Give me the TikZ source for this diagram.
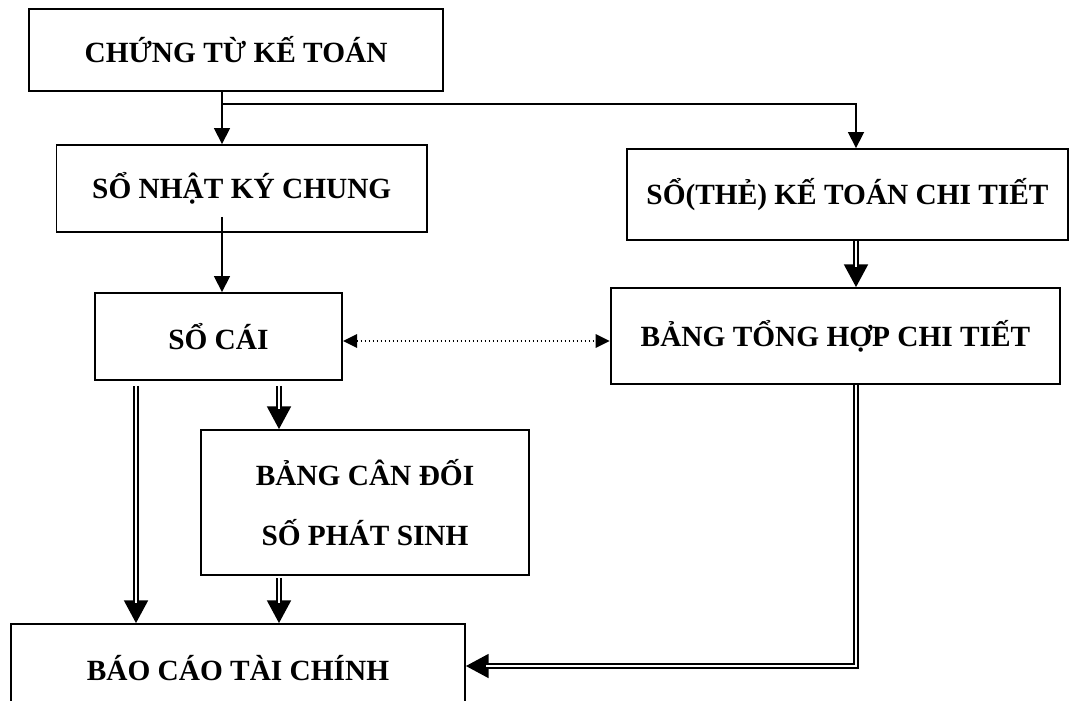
\documentclass[tikz,border=0pt]{standalone}
\usepackage{fontspec}
\setmainfont{Liberation Serif}
\usetikzlibrary{arrows.meta,calc}
\tikzset{
  box/.style={draw=black, line width=1.4pt, inner sep=0pt, align=center,
    font=\fontsize{22}{45}\selectfont\bfseries},
  arr/.style={draw=black, line width=1.2pt, -{Triangle[length=12pt,width=12pt]}},
  dotarr/.style={draw=black, line width=1.4pt, dash pattern=on 1.3pt off 1.7pt,
    {Triangle[length=10.5pt,width=10pt]}-{Triangle[length=10.5pt,width=10pt]}},
  dblarr/.style={draw=black, line width=1.2pt, -{Triangle[length=17pt,width=18pt]},
    postaction={draw=black, arrows=-, double=white, double distance=2.2pt,
      line width=1.2pt, shorten >=15pt}}
}
\begin{document}
\begin{tikzpicture}[x=0.75pt,y=-0.75pt]
\useasboundingbox (0,0) rectangle (1070,700);
\node[box, minimum width=310.5pt, minimum height=61.5pt] (b1) at (236,50) {CHỨNG TỪ KẾ TOÁN};
\node[box, minimum width=277.9pt, minimum height=65.25pt] (b2) at (241.75,188.5) {SỔ NHẬT KÝ CHUNG};
\node[box, minimum width=330.75pt, minimum height=68.25pt] (b3) at (847.5,194.5) {SỔ(THẺ) KẾ TOÁN CHI TIẾT};
\node[box, minimum width=185.5pt, minimum height=65.25pt] (b4) at (218.4,336.5) {SỔ CÁI};
\node[box, minimum width=337.3pt, minimum height=72pt] (b5) at (835.5,336) {BẢNG TỔNG HỢP CHI TIẾT};
\node[box, minimum width=246pt, minimum height=108.75pt] (b6) at (365,502.5) {BẢNG CÂN ĐỐI\\SỐ PHÁT SINH};
\node[box, minimum width=340.5pt, minimum height=66pt] (b7) at (238,668) {BÁO CÁO TÀI CHÍNH};
\coordinate (lx) at (222,0);
\coordinate (cx) at (856,0);
\coordinate (d1) at (136,0);
\coordinate (d2) at (279,0);
\coordinate (dy) at (0,341);
\coordinate (ry) at (0,666);
\coordinate (br) at (222,104);
\draw[arr] (b1.south -| lx) -- (b2.north -| lx);
\draw[arr] (br) -| (b3.north -| cx);
\draw[arr] ($(b2.south -| lx)+(0,-16)$) -- (b4.north -| lx);
\draw[dotarr] (b4.east |- dy) -- (b5.west |- dy);
\draw[dblarr] (b3.south -| cx) -- (b5.north -| cx);
\draw[dblarr] ($(b4.south -| d1)+(0,5)$) -- (b7.north -| d1);
\draw[dblarr] ($(b4.south -| d2)+(0,5)$) -- (b6.north -| d2);
\draw[dblarr] ($(b6.south -| d2)+(0,2)$) -- (b7.north -| d2);
\draw[dblarr] (b5.south -| cx) |- (b7.east |- ry);
\end{tikzpicture}
\end{document}
